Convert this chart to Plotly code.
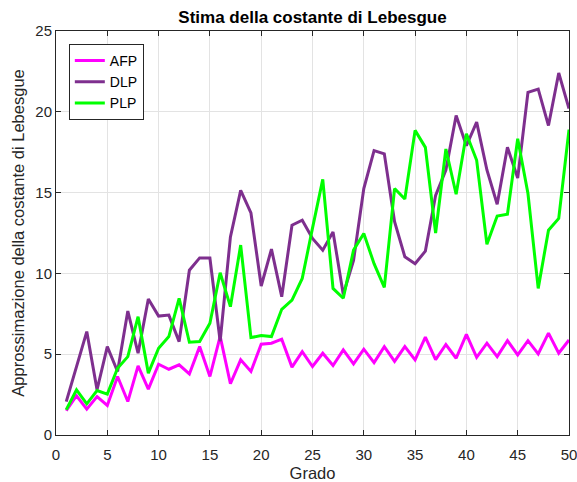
import plotly.graph_objects as go

grado = list(range(1, 51))
afp = [1.5, 2.43, 1.6, 2.38, 1.83, 3.62, 2.07, 4.28, 2.84, 4.38,
       4.07, 4.34, 3.78, 5.47, 3.62, 6.1, 3.17, 4.65, 3.93, 5.62,
       5.68, 5.93, 4.2, 5.16, 4.24, 5.06, 4.3, 5.27, 4.4, 5.31,
       4.48, 5.47, 4.55, 5.47, 4.65, 6.05, 4.67, 5.6, 4.75, 6.23,
       4.81, 5.68, 4.85, 5.84, 4.96, 5.84, 5.02, 6.3, 5.06, 5.88]
dlp = [2.07, 4.3, 6.4, 2.8, 5.47, 3.93, 7.67, 5.06, 8.41, 7.36,
       7.42, 5.78, 10.2, 10.96, 10.95, 5.8, 12.26, 15.14, 13.74, 9.22,
       11.5, 8.56, 12.98, 13.29, 12.16, 11.44, 12.57, 8.7, 10.8, 15.25,
       17.6, 17.4, 13.2, 11.03, 10.6, 11.38, 14.83, 16.4, 19.77, 17.9,
       19.36, 16.4, 14.28, 17.8, 15.9, 21.2, 21.4, 19.15, 22.4, 20.2]
plp = [1.56, 2.8, 1.93, 2.75, 2.53, 4.13, 4.85, 7.32, 3.83, 5.37,
       6.09, 8.46, 5.74, 5.78, 6.91, 10.04, 7.94, 11.75, 6.03, 6.15,
       6.09, 7.78, 8.35, 9.69, 12.8, 15.82, 9.07, 8.46, 11.44, 12.47,
       10.6, 9.13, 15.25, 14.6, 18.85, 17.8, 12.5, 17.7, 14.9, 18.64,
       17.0, 11.8, 13.55, 13.66, 18.33, 14.94, 9.07, 12.67, 13.4, 18.9]

x_ticks = [0, 5, 10, 15, 20, 25, 30, 35, 40, 45, 50]
y_ticks = [0, 5, 10, 15, 20, 25]

series = [("AFP", afp, "#FF00FF"), ("DLP", dlp, "#7E2F8E"), ("PLP", plp, "#00FF00")]

fig = go.Figure()
for name, vals, col in series:
    fig.add_trace(go.Scatter(x=grado, y=vals, mode="lines", name=name,
                             line=dict(color=col, width=3)))

axis_common = dict(
    showline=True, linecolor="#262626", linewidth=1, mirror="ticks",
    ticks="inside", ticklen=5, tickcolor="#262626",
    showgrid=True, gridcolor="#E3E3E3", gridwidth=1, zeroline=False,
    automargin=False, ticklabeloverflow="allow",
    tickfont=dict(family="Liberation Sans, Arial", size=15, color="#262626"),
)

fig.update_layout(
    width=577, height=482,
    margin=dict(l=56, r=8, t=31, b=47),
    paper_bgcolor="white", plot_bgcolor="white",
    font=dict(family="Liberation Sans, Arial", color="#262626"),
    title=dict(text="<b>Stima della costante di Lebesgue</b>", x=0.5, xref="paper",
               xanchor="center", y=1 - 17 / 482, yref="container", yanchor="middle",
               font=dict(size=17, color="black")),
    xaxis=dict(range=[0, 50], tickvals=x_ticks, ticktext=[str(v) for v in x_ticks],
               ticklabelstandoff=6,
               title=dict(text="Grado", font=dict(size=16.5, color="#262626"), standoff=6),
               **axis_common),
    yaxis=dict(range=[0, 25], tickvals=y_ticks, ticktext=[str(v) for v in y_ticks],
               title=dict(text="Approssimazione della costante di Lebesgue",
                          font=dict(size=16.5, color="#262626"), standoff=6),
               **axis_common),
    legend=dict(x=0.025, y=0.968, xanchor="left", yanchor="top",
                bgcolor="white", bordercolor="#262626", borderwidth=1,
                font=dict(size=14, color="black"), tracegroupgap=0,
                itemwidth=30),
    showlegend=True,
)

fig.write_html("out.html")
